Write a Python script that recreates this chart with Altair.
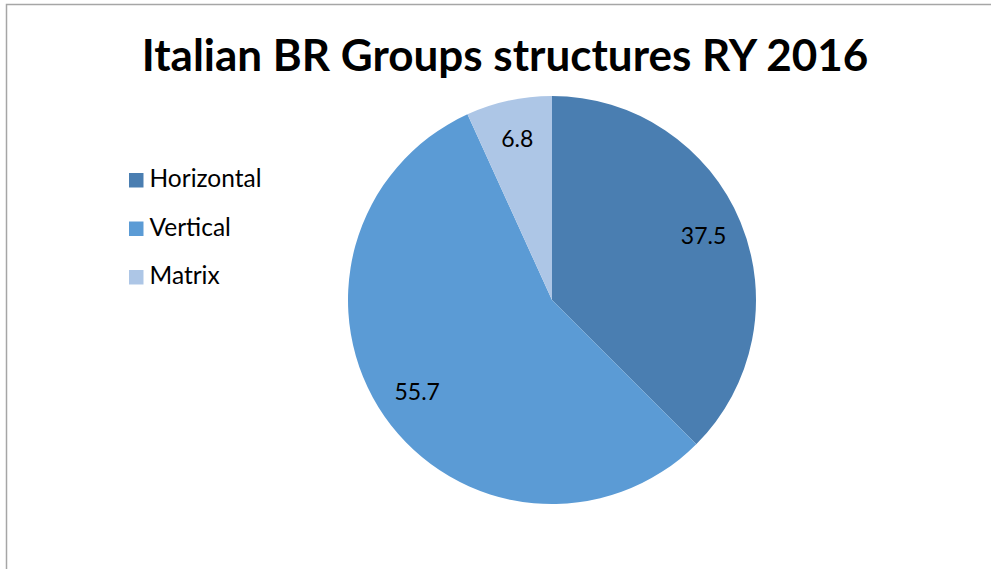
import altair as alt
import pandas as pd

categories = ["Horizontal", "Vertical", "Matrix"]
values = [37.5, 55.7, 6.8]
colors = ["#4A7EB1", "#5B9BD5", "#ADC6E6"]
title_text = "Italian BR Groups structures RY 2016"

df = pd.DataFrame({"category": categories, "value": values, "order": list(range(len(categories))),
                   "label": [f"{v:.1f}" for v in values]})

FONT = "Lato"
CX, CY, R = 552, 300, 204

base = alt.Chart(df).encode(
    theta=alt.Theta("value:Q", stack=True),
    order=alt.Order("order:Q"),
)

pie = base.mark_arc(radius=R, stroke=None).encode(
    x=alt.value(CX), y=alt.value(CY),
    color=alt.Color(
        "category:N",
        scale=alt.Scale(domain=categories, range=colors),
        sort=categories,
        legend=alt.Legend(
            title=None, orient="none", legendX=124, legendY=168,
            symbolType="square", symbolSize=210, symbolStrokeWidth=0,
            labelFont=FONT, labelFontSize=24.5, labelColor="black",
            labelOffset=1, rowPadding=23.5, padding=0,
        ),
    ),
)

labels = base.mark_text(radius=164, font=FONT, fontSize=23, color="black").encode(
    x=alt.value(CX), y=alt.value(CY), text="label:N"
)

title_df = pd.DataFrame({"t": [title_text]})
title = alt.Chart(title_df).mark_text(font=FONT, fontSize=44, fontWeight="bold", color="black",
                                       align="center", baseline="alphabetic").encode(
    x=alt.value(505), y=alt.value(71), text="t:N"
)

border = alt.Chart(title_df).mark_rect(fill=None, stroke="#A6A6A6", strokeWidth=1.5).encode(
    x=alt.value(6.5), y=alt.value(4.5), x2=alt.value(1200), y2=alt.value(900)
)

chart = alt.layer(border, pie, labels, title).properties(
    width=991, height=569, padding=0, autosize=alt.AutoSizeParams(type="none"),
    background="white",
).configure_view(stroke=None)

chart.save("out.html", embed_options={"renderer": "svg", "actions": False})
